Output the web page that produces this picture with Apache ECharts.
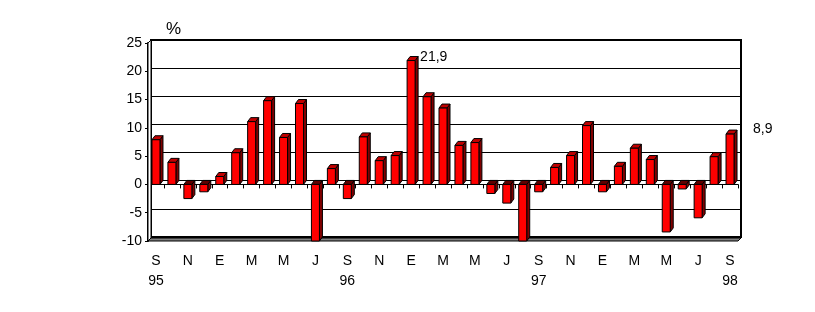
<!DOCTYPE html>
<html><head><meta charset="utf-8">
<script src="https://cdn.jsdelivr.net/npm/echarts@6/dist/echarts.min.js"></script>
<style>html,body{margin:0;padding:0;background:#fff}#c{width:815px;height:312px}</style>
</head><body><div id="c"></div>
<script>
var months = ['S','O','N','D','E','F','M','A','M','J','J','A','S','O','N','D','E','F','M','A','M','J','J','A','S','O','N','D','E','F','M','A','M','J','J','A','S'];
var years = {0:'95',12:'96',24:'97',36:'98'};
var values = [7.9,3.9,-2.5,-1.3,1.4,5.6,11.1,14.8,8.3,14.3,-10,2.8,-2.5,8.4,4.2,5.1,21.9,15.5,13.5,6.9,7.4,-1.6,-3.3,-10,-1.3,3.0,5.1,10.4,-1.3,3.2,6.4,4.4,-8.4,-0.8,-5.9,4.9,8.9];
var labelled = {16:'21,9',36:'8,9'};
var yTicks = [-10,-5,0,5,10,15,20,25];

var chart = echarts.init(document.getElementById('c'));
var DX = 3, DY = -4;
var FONT = 'Liberation Sans';
function renderBar(params, api) {
  var i = api.value(0), v = api.value(1);
  var p = api.coord([i, v]), b = api.coord([i, 0]);
  var w = 8;
  var x0 = p[0] - w/2, x1 = p[0] + w/2;
  var top = Math.min(p[1], b[1]), bot = Math.max(p[1], b[1]);
  var cs = params.coordSys;
  bot = Math.min(bot, cs.y + cs.height);
  var children = [
    {type:'polygon', shape:{points:[[x1,top],[x1+DX,top+DY],[x1+DX,bot+DY],[x1,bot]]}, style:{fill:'#800000', stroke:'#000', lineWidth:1}},
    {type:'polygon', shape:{points:[[x0,top],[x0+DX,top+DY],[x1+DX,top+DY],[x1,top]]}, style:{fill: v>=0 ? '#C00000' : '#600000', stroke:'#000', lineWidth:1}},
    {type:'rect', shape:{x:x0, y:top, width:w, height:bot-top}, style:{fill:'#FF0000', stroke:'#000', lineWidth:1}}
  ];
  var lab = labelled[i];
  if (lab) {
    var last = (i === values.length - 1);
    var tx = last ? cs.x + cs.width + 15 : x1 + DX + 2;
    var ty = last ? top - 5 : top + DY + 1;
    children.push({type:'text', style:{text:lab, x:tx, y:ty, font:'14px '+FONT, fill:'#000', textAlign:'left', textVerticalAlign:'middle'}});
  }
  return {type:'group', children:children};
}

var option = {
  animation:false,
  title:{text:'%', left:161, top:16, textStyle:{fontFamily:FONT, fontSize:17, fontWeight:'normal', color:'#000'}},
  grid:[
    {left:151, top:40, width:590, height:197, show:true, borderColor:'#000', borderWidth:2, backgroundColor:'transparent'},
    {left:148, top:43, width:590, height:198}
  ],
  xAxis:[
    {gridIndex:0, type:'category', data:months, show:false},
    {gridIndex:1, type:'category', data:months,
     axisLine:{lineStyle:{color:'#000', width:1}},
     axisTick:{show:true, interval:0, length:4, lineStyle:{color:'#000'}},
     axisLabel:{interval:1, margin:10, color:'#000', fontFamily:FONT, fontSize:14, lineHeight:20,
       formatter:function(val, idx){ return years[idx] ? val + '\n' + years[idx] : val; }}}
  ],
  yAxis:[
    {gridIndex:0, type:'value', min:-10, max:25, interval:5, axisLabel:{show:false}, axisLine:{show:false}, axisTick:{show:false},
     splitLine:{show:true, lineStyle:{color:'#000', width:1}}},
    {gridIndex:1, type:'value', min:-10, max:25, interval:5,
     axisLine:{show:true, lineStyle:{color:'#000', width:2}},
     axisTick:{show:true, length:3, lineStyle:{color:'#000'}},
     axisLabel:{color:'#000', fontFamily:FONT, fontSize:14, margin:6},
     splitLine:{show:false}}
  ],
  series:[
    {type:'custom', xAxisIndex:1, yAxisIndex:1, data:values.map(function(v,i){return [i,v];}), renderItem:renderBar, clip:false, z:5}
  ]
};
chart.setOption(option);

// floor and left wall derived from axes
var fl = chart.convertToPixel({xAxisIndex:1, yAxisIndex:1}, [0, -10]);
var fr = chart.convertToPixel({xAxisIndex:1, yAxisIndex:1}, [values.length-1, -10]);
var ft = chart.convertToPixel({xAxisIndex:1, yAxisIndex:1}, [0, 25]);
var half = (fr[0]-fl[0])/(values.length-1)/2;
var L = fl[0]-half, R = fr[0]+half, B = fl[1], T = ft[1];
chart.setOption({graphic:[
  {type:'polygon', z:3, shape:{points:[[L,B],[L+DX,B+DY+1],[R+DX,B+DY+1],[R,B]]}, style:{fill:'#808080', stroke:'#000', lineWidth:1}},
  {type:'polygon', z:3, shape:{points:[[L,T],[L+DX,T+DY+1],[L+DX,B+DY+1],[L,B]]}, style:{fill:'#fff', stroke:'#000', lineWidth:1}}
]});
</script></body></html>
